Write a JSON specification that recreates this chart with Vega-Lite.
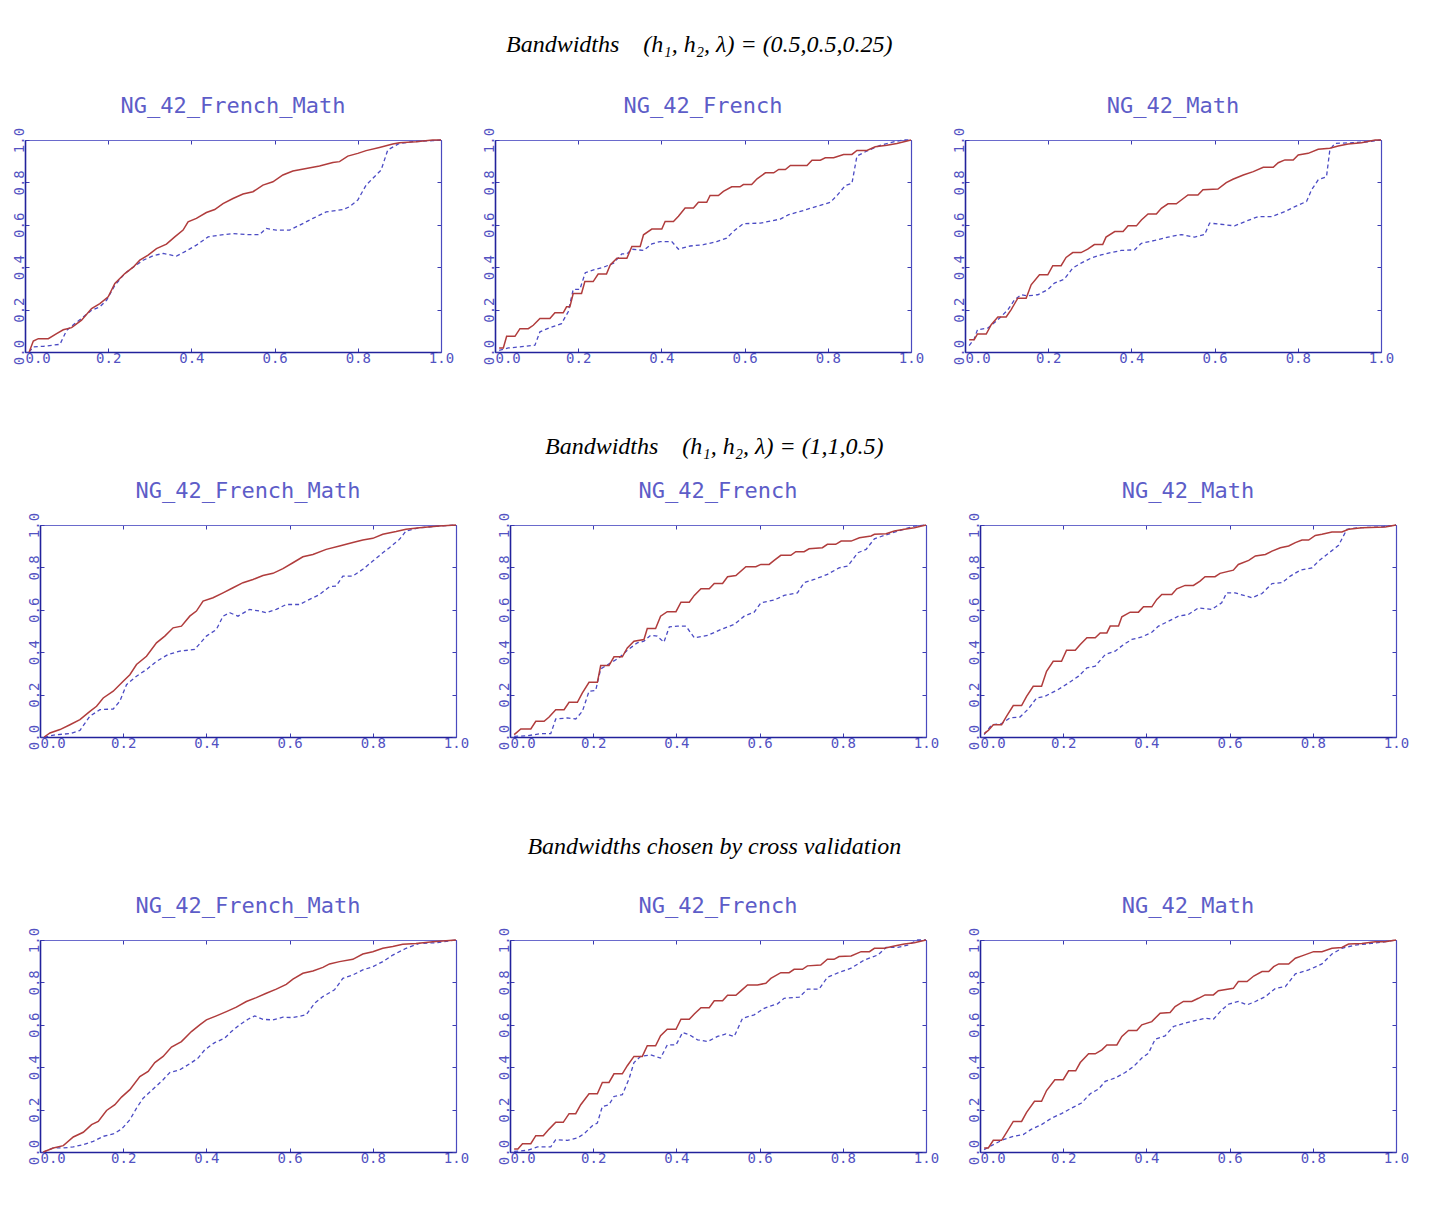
{
"$schema":"https://vega.github.io/schema/vega-lite/v6.json",
"background":"white",
"padding":{"left":5,"right":5,"top":33,"bottom":5},
"spacing":63,
"config":{
 "view":{"stroke":null},
 "title":{"font":"DejaVu Sans Mono","fontSize":22,"fontWeight":"normal","color":"#5d5dc8","offset":9},
 "axis":{"labelFont":"DejaVu Sans Mono","labelFontSize":14,"labelColor":"#5252c2","tickColor":"#3b3bb0","tickSize":-4,"tickWidth":1,"domainColor":"#22229c","domainWidth":1.6,"grid":false,"labelFlush":false,"labelOverlap":false,"labelPadding":3,"tickCount":5},
 "axisLeft":{"labelAngle":-90,"minExtent":20,"maxExtent":20},
 "axisBottom":{"minExtent":20,"maxExtent":20},
 "axisTop":{"labels":false,"minExtent":0,"maxExtent":0,"domainColor":"#6a6acc","domainWidth":1.2},
 "axisRight":{"labels":false,"minExtent":0,"maxExtent":0,"domainColor":"#4a4abf","domainWidth":1.2}
},
"datasets":{
"r1p1":[
{"s":"a","x":0.01,"y":0},{"s":"a","x":0.02,"y":0.052},{"s":"a","x":0.032,"y":0.063},{"s":"a","x":0.056,"y":0.063},{"s":"a","x":0.076,"y":0.087},{"s":"a","x":0.092,"y":0.105},{"s":"a","x":0.112,"y":0.115},{"s":"a","x":0.136,"y":0.15},{"s":"a","x":0.16,"y":0.205},{"s":"a","x":0.18,"y":0.228},{"s":"a","x":0.2,"y":0.26},{"s":"a","x":0.216,"y":0.323},{"s":"a","x":0.24,"y":0.37},{"s":"a","x":0.26,"y":0.4},{"s":"a","x":0.276,"y":0.433},{"s":"a","x":0.296,"y":0.457},{"s":"a","x":0.316,"y":0.488},{"s":"a","x":0.34,"y":0.509},{"s":"a","x":0.36,"y":0.543},{"s":"a","x":0.38,"y":0.575},{"s":"a","x":0.392,"y":0.614},{"s":"a","x":0.412,"y":0.63},{"s":"a","x":0.436,"y":0.658},{"s":"a","x":0.456,"y":0.672},{"s":"a","x":0.476,"y":0.7},{"s":"a","x":0.5,"y":0.724},{"s":"a","x":0.524,"y":0.745},{"s":"a","x":0.548,"y":0.756},{"s":"a","x":0.572,"y":0.787},{"s":"a","x":0.596,"y":0.803},{"s":"a","x":0.62,"y":0.835},{"s":"a","x":0.644,"y":0.854},{"s":"a","x":0.676,"y":0.866},{"s":"a","x":0.708,"y":0.877},{"s":"a","x":0.74,"y":0.894},{"s":"a","x":0.756,"y":0.898},{"s":"a","x":0.776,"y":0.924},{"s":"a","x":0.8,"y":0.937},{"s":"a","x":0.82,"y":0.95},{"s":"a","x":0.852,"y":0.965},{"s":"a","x":0.884,"y":0.981},{"s":"a","x":0.9,"y":0.987},{"s":"a","x":0.94,"y":0.992},{"s":"a","x":0.98,"y":1.0},{"s":"a","x":1.0,"y":1.0},
{"s":"b","x":0.01,"y":0},{"s":"b","x":0.02,"y":0.024},{"s":"b","x":0.044,"y":0.027},{"s":"b","x":0.084,"y":0.036},{"s":"b","x":0.1,"y":0.102},{"s":"b","x":0.12,"y":0.134},{"s":"b","x":0.14,"y":0.165},{"s":"b","x":0.16,"y":0.197},{"s":"b","x":0.18,"y":0.213},{"s":"b","x":0.196,"y":0.244},{"s":"b","x":0.216,"y":0.315},{"s":"b","x":0.24,"y":0.37},{"s":"b","x":0.26,"y":0.4},{"s":"b","x":0.284,"y":0.433},{"s":"b","x":0.308,"y":0.454},{"s":"b","x":0.332,"y":0.465},{"s":"b","x":0.364,"y":0.452},{"s":"b","x":0.388,"y":0.477},{"s":"b","x":0.412,"y":0.504},{"s":"b","x":0.44,"y":0.543},{"s":"b","x":0.468,"y":0.551},{"s":"b","x":0.5,"y":0.559},{"s":"b","x":0.532,"y":0.554},{"s":"b","x":0.564,"y":0.554},{"s":"b","x":0.58,"y":0.583},{"s":"b","x":0.604,"y":0.575},{"s":"b","x":0.636,"y":0.575},{"s":"b","x":0.66,"y":0.598},{"s":"b","x":0.692,"y":0.63},{"s":"b","x":0.724,"y":0.661},{"s":"b","x":0.764,"y":0.672},{"s":"b","x":0.78,"y":0.685},{"s":"b","x":0.8,"y":0.717},{"s":"b","x":0.82,"y":0.787},{"s":"b","x":0.84,"y":0.827},{"s":"b","x":0.856,"y":0.858},{"s":"b","x":0.872,"y":0.953},{"s":"b","x":0.9,"y":0.984},{"s":"b","x":0.932,"y":0.992},{"s":"b","x":0.98,"y":0.997},{"s":"b","x":1.0,"y":1.0}
],
"r1p2":[
{"s":"a","x":0.01,"y":0.019},{"s":"a","x":0.02,"y":0.019},{"s":"a","x":0.028,"y":0.074},{"s":"a","x":0.048,"y":0.074},{"s":"a","x":0.06,"y":0.11},{"s":"a","x":0.08,"y":0.11},{"s":"a","x":0.092,"y":0.126},{"s":"a","x":0.108,"y":0.158},{"s":"a","x":0.132,"y":0.158},{"s":"a","x":0.144,"y":0.185},{"s":"a","x":0.164,"y":0.185},{"s":"a","x":0.172,"y":0.213},{"s":"a","x":0.18,"y":0.213},{"s":"a","x":0.188,"y":0.276},{"s":"a","x":0.208,"y":0.276},{"s":"a","x":0.216,"y":0.332},{"s":"a","x":0.236,"y":0.332},{"s":"a","x":0.248,"y":0.368},{"s":"a","x":0.268,"y":0.368},{"s":"a","x":0.277,"y":0.411},{"s":"a","x":0.293,"y":0.442},{"s":"a","x":0.317,"y":0.442},{"s":"a","x":0.329,"y":0.498},{"s":"a","x":0.349,"y":0.498},{"s":"a","x":0.357,"y":0.553},{"s":"a","x":0.377,"y":0.58},{"s":"a","x":0.401,"y":0.58},{"s":"a","x":0.409,"y":0.616},{"s":"a","x":0.429,"y":0.616},{"s":"a","x":0.441,"y":0.64},{"s":"a","x":0.457,"y":0.679},{"s":"a","x":0.477,"y":0.679},{"s":"a","x":0.489,"y":0.706},{"s":"a","x":0.509,"y":0.706},{"s":"a","x":0.517,"y":0.738},{"s":"a","x":0.537,"y":0.738},{"s":"a","x":0.549,"y":0.758},{"s":"a","x":0.569,"y":0.779},{"s":"a","x":0.589,"y":0.779},{"s":"a","x":0.597,"y":0.79},{"s":"a","x":0.617,"y":0.79},{"s":"a","x":0.63,"y":0.817},{"s":"a","x":0.65,"y":0.845},{"s":"a","x":0.67,"y":0.845},{"s":"a","x":0.682,"y":0.861},{"s":"a","x":0.698,"y":0.861},{"s":"a","x":0.71,"y":0.88},{"s":"a","x":0.75,"y":0.88},{"s":"a","x":0.762,"y":0.905},{"s":"a","x":0.782,"y":0.905},{"s":"a","x":0.794,"y":0.916},{"s":"a","x":0.814,"y":0.916},{"s":"a","x":0.838,"y":0.932},{"s":"a","x":0.858,"y":0.932},{"s":"a","x":0.87,"y":0.951},{"s":"a","x":0.894,"y":0.951},{"s":"a","x":0.914,"y":0.968},{"s":"a","x":0.942,"y":0.975},{"s":"a","x":0.966,"y":0.984},{"s":"a","x":1.0,"y":1.0},
{"s":"b","x":0.01,"y":0.008},{"s":"b","x":0.032,"y":0.019},{"s":"b","x":0.06,"y":0.024},{"s":"b","x":0.096,"y":0.032},{"s":"b","x":0.108,"y":0.095},{"s":"b","x":0.132,"y":0.115},{"s":"b","x":0.16,"y":0.134},{"s":"b","x":0.176,"y":0.19},{"s":"b","x":0.188,"y":0.295},{"s":"b","x":0.204,"y":0.295},{"s":"b","x":0.217,"y":0.374},{"s":"b","x":0.237,"y":0.387},{"s":"b","x":0.261,"y":0.4},{"s":"b","x":0.285,"y":0.419},{"s":"b","x":0.305,"y":0.463},{"s":"b","x":0.317,"y":0.463},{"s":"b","x":0.329,"y":0.485},{"s":"b","x":0.357,"y":0.479},{"s":"b","x":0.377,"y":0.51},{"s":"b","x":0.397,"y":0.521},{"s":"b","x":0.425,"y":0.521},{"s":"b","x":0.441,"y":0.485},{"s":"b","x":0.469,"y":0.5},{"s":"b","x":0.501,"y":0.506},{"s":"b","x":0.533,"y":0.521},{"s":"b","x":0.557,"y":0.537},{"s":"b","x":0.573,"y":0.569},{"s":"b","x":0.597,"y":0.605},{"s":"b","x":0.638,"y":0.608},{"s":"b","x":0.686,"y":0.627},{"s":"b","x":0.706,"y":0.648},{"s":"b","x":0.742,"y":0.668},{"s":"b","x":0.774,"y":0.687},{"s":"b","x":0.806,"y":0.706},{"s":"b","x":0.822,"y":0.738},{"s":"b","x":0.842,"y":0.785},{"s":"b","x":0.858,"y":0.795},{"s":"b","x":0.87,"y":0.924},{"s":"b","x":0.894,"y":0.948},{"s":"b","x":0.926,"y":0.975},{"s":"b","x":0.958,"y":0.991},{"s":"b","x":0.982,"y":1.0},{"s":"b","x":1.0,"y":1.0}
],
"r1p3":[
{"s":"a","x":0.01,"y":0.058},{"s":"a","x":0.022,"y":0.058},{"s":"a","x":0.03,"y":0.085},{"s":"a","x":0.051,"y":0.085},{"s":"a","x":0.063,"y":0.129},{"s":"a","x":0.079,"y":0.165},{"s":"a","x":0.099,"y":0.165},{"s":"a","x":0.111,"y":0.2},{"s":"a","x":0.127,"y":0.254},{"s":"a","x":0.147,"y":0.254},{"s":"a","x":0.159,"y":0.317},{"s":"a","x":0.179,"y":0.364},{"s":"a","x":0.199,"y":0.364},{"s":"a","x":0.211,"y":0.407},{"s":"a","x":0.231,"y":0.407},{"s":"a","x":0.243,"y":0.446},{"s":"a","x":0.259,"y":0.469},{"s":"a","x":0.279,"y":0.469},{"s":"a","x":0.295,"y":0.485},{"s":"a","x":0.311,"y":0.507},{"s":"a","x":0.331,"y":0.507},{"s":"a","x":0.339,"y":0.542},{"s":"a","x":0.36,"y":0.568},{"s":"a","x":0.38,"y":0.568},{"s":"a","x":0.392,"y":0.595},{"s":"a","x":0.412,"y":0.595},{"s":"a","x":0.424,"y":0.623},{"s":"a","x":0.44,"y":0.651},{"s":"a","x":0.46,"y":0.651},{"s":"a","x":0.472,"y":0.678},{"s":"a","x":0.488,"y":0.699},{"s":"a","x":0.508,"y":0.699},{"s":"a","x":0.52,"y":0.717},{"s":"a","x":0.536,"y":0.741},{"s":"a","x":0.56,"y":0.741},{"s":"a","x":0.572,"y":0.765},{"s":"a","x":0.608,"y":0.769},{"s":"a","x":0.628,"y":0.799},{"s":"a","x":0.644,"y":0.815},{"s":"a","x":0.669,"y":0.835},{"s":"a","x":0.693,"y":0.851},{"s":"a","x":0.717,"y":0.871},{"s":"a","x":0.741,"y":0.871},{"s":"a","x":0.753,"y":0.893},{"s":"a","x":0.769,"y":0.906},{"s":"a","x":0.789,"y":0.906},{"s":"a","x":0.801,"y":0.929},{"s":"a","x":0.825,"y":0.937},{"s":"a","x":0.849,"y":0.956},{"s":"a","x":0.877,"y":0.961},{"s":"a","x":0.897,"y":0.972},{"s":"a","x":0.921,"y":0.981},{"s":"a","x":0.953,"y":0.987},{"s":"a","x":0.986,"y":1.0},{"s":"a","x":1.0,"y":1.0},
{"s":"b","x":0.01,"y":0.03},{"s":"b","x":0.022,"y":0.061},{"s":"b","x":0.03,"y":0.105},{"s":"b","x":0.055,"y":0.113},{"s":"b","x":0.079,"y":0.152},{"s":"b","x":0.103,"y":0.199},{"s":"b","x":0.119,"y":0.246},{"s":"b","x":0.135,"y":0.27},{"s":"b","x":0.151,"y":0.265},{"s":"b","x":0.175,"y":0.27},{"s":"b","x":0.199,"y":0.294},{"s":"b","x":0.215,"y":0.325},{"s":"b","x":0.239,"y":0.344},{"s":"b","x":0.259,"y":0.396},{"s":"b","x":0.279,"y":0.419},{"s":"b","x":0.303,"y":0.443},{"s":"b","x":0.327,"y":0.458},{"s":"b","x":0.351,"y":0.469},{"s":"b","x":0.376,"y":0.479},{"s":"b","x":0.408,"y":0.482},{"s":"b","x":0.424,"y":0.513},{"s":"b","x":0.456,"y":0.526},{"s":"b","x":0.488,"y":0.542},{"s":"b","x":0.52,"y":0.554},{"s":"b","x":0.552,"y":0.542},{"s":"b","x":0.576,"y":0.554},{"s":"b","x":0.588,"y":0.608},{"s":"b","x":0.608,"y":0.604},{"s":"b","x":0.648,"y":0.595},{"s":"b","x":0.673,"y":0.615},{"s":"b","x":0.705,"y":0.639},{"s":"b","x":0.737,"y":0.639},{"s":"b","x":0.769,"y":0.662},{"s":"b","x":0.793,"y":0.686},{"s":"b","x":0.821,"y":0.71},{"s":"b","x":0.833,"y":0.765},{"s":"b","x":0.849,"y":0.812},{"s":"b","x":0.869,"y":0.827},{"s":"b","x":0.877,"y":0.953},{"s":"b","x":0.889,"y":0.984},{"s":"b","x":0.929,"y":0.987},{"s":"b","x":0.97,"y":0.992},{"s":"b","x":1.0,"y":1.0}
],
"r2p1":[
{"s":"a","x":0.01,"y":0},{"s":"a","x":0.024,"y":0.019},{"s":"a","x":0.048,"y":0.035},{"s":"a","x":0.072,"y":0.058},{"s":"a","x":0.096,"y":0.082},{"s":"a","x":0.12,"y":0.121},{"s":"a","x":0.136,"y":0.145},{"s":"a","x":0.152,"y":0.184},{"s":"a","x":0.176,"y":0.216},{"s":"a","x":0.2,"y":0.263},{"s":"a","x":0.216,"y":0.294},{"s":"a","x":0.232,"y":0.342},{"s":"a","x":0.256,"y":0.381},{"s":"a","x":0.28,"y":0.444},{"s":"a","x":0.3,"y":0.476},{"s":"a","x":0.32,"y":0.515},{"s":"a","x":0.34,"y":0.523},{"s":"a","x":0.36,"y":0.57},{"s":"a","x":0.376,"y":0.594},{"s":"a","x":0.392,"y":0.641},{"s":"a","x":0.416,"y":0.657},{"s":"a","x":0.44,"y":0.68},{"s":"a","x":0.464,"y":0.704},{"s":"a","x":0.488,"y":0.728},{"s":"a","x":0.512,"y":0.743},{"s":"a","x":0.536,"y":0.762},{"s":"a","x":0.56,"y":0.772},{"s":"a","x":0.584,"y":0.794},{"s":"a","x":0.608,"y":0.822},{"s":"a","x":0.632,"y":0.85},{"s":"a","x":0.656,"y":0.861},{"s":"a","x":0.688,"y":0.885},{"s":"a","x":0.72,"y":0.901},{"s":"a","x":0.752,"y":0.917},{"s":"a","x":0.776,"y":0.929},{"s":"a","x":0.8,"y":0.937},{"s":"a","x":0.824,"y":0.956},{"s":"a","x":0.856,"y":0.969},{"s":"a","x":0.88,"y":0.98},{"s":"a","x":0.912,"y":0.987},{"s":"a","x":0.96,"y":0.995},{"s":"a","x":1.0,"y":1.0},
{"s":"b","x":0.01,"y":0},{"s":"b","x":0.04,"y":0.011},{"s":"b","x":0.072,"y":0.016},{"s":"b","x":0.096,"y":0.031},{"s":"b","x":0.12,"y":0.098},{"s":"b","x":0.144,"y":0.129},{"s":"b","x":0.176,"y":0.132},{"s":"b","x":0.192,"y":0.169},{"s":"b","x":0.208,"y":0.247},{"s":"b","x":0.232,"y":0.287},{"s":"b","x":0.256,"y":0.318},{"s":"b","x":0.28,"y":0.357},{"s":"b","x":0.308,"y":0.389},{"s":"b","x":0.336,"y":0.405},{"s":"b","x":0.372,"y":0.413},{"s":"b","x":0.4,"y":0.476},{"s":"b","x":0.424,"y":0.507},{"s":"b","x":0.44,"y":0.57},{"s":"b","x":0.456,"y":0.586},{"s":"b","x":0.476,"y":0.57},{"s":"b","x":0.504,"y":0.602},{"s":"b","x":0.528,"y":0.594},{"s":"b","x":0.544,"y":0.586},{"s":"b","x":0.568,"y":0.602},{"s":"b","x":0.592,"y":0.625},{"s":"b","x":0.624,"y":0.625},{"s":"b","x":0.648,"y":0.649},{"s":"b","x":0.672,"y":0.672},{"s":"b","x":0.696,"y":0.709},{"s":"b","x":0.712,"y":0.712},{"s":"b","x":0.728,"y":0.759},{"s":"b","x":0.752,"y":0.759},{"s":"b","x":0.776,"y":0.791},{"s":"b","x":0.8,"y":0.83},{"s":"b","x":0.824,"y":0.869},{"s":"b","x":0.84,"y":0.893},{"s":"b","x":0.864,"y":0.932},{"s":"b","x":0.88,"y":0.972},{"s":"b","x":0.912,"y":0.987},{"s":"b","x":0.96,"y":0.995},{"s":"b","x":1.0,"y":1.0}
],
"r2p2":[
{"s":"a","x":0.01,"y":0.011},{"s":"a","x":0.026,"y":0.038},{"s":"a","x":0.05,"y":0.038},{"s":"a","x":0.062,"y":0.074},{"s":"a","x":0.082,"y":0.074},{"s":"a","x":0.094,"y":0.094},{"s":"a","x":0.11,"y":0.129},{"s":"a","x":0.13,"y":0.129},{"s":"a","x":0.142,"y":0.164},{"s":"a","x":0.162,"y":0.164},{"s":"a","x":0.174,"y":0.208},{"s":"a","x":0.19,"y":0.258},{"s":"a","x":0.21,"y":0.258},{"s":"a","x":0.218,"y":0.337},{"s":"a","x":0.238,"y":0.337},{"s":"a","x":0.25,"y":0.378},{"s":"a","x":0.27,"y":0.378},{"s":"a","x":0.282,"y":0.42},{"s":"a","x":0.298,"y":0.452},{"s":"a","x":0.322,"y":0.46},{"s":"a","x":0.33,"y":0.512},{"s":"a","x":0.35,"y":0.512},{"s":"a","x":0.362,"y":0.57},{"s":"a","x":0.378,"y":0.591},{"s":"a","x":0.399,"y":0.591},{"s":"a","x":0.411,"y":0.636},{"s":"a","x":0.431,"y":0.636},{"s":"a","x":0.443,"y":0.668},{"s":"a","x":0.459,"y":0.699},{"s":"a","x":0.479,"y":0.699},{"s":"a","x":0.491,"y":0.724},{"s":"a","x":0.511,"y":0.724},{"s":"a","x":0.523,"y":0.756},{"s":"a","x":0.543,"y":0.762},{"s":"a","x":0.567,"y":0.803},{"s":"a","x":0.591,"y":0.803},{"s":"a","x":0.603,"y":0.814},{"s":"a","x":0.623,"y":0.814},{"s":"a","x":0.635,"y":0.833},{"s":"a","x":0.651,"y":0.857},{"s":"a","x":0.675,"y":0.857},{"s":"a","x":0.687,"y":0.874},{"s":"a","x":0.707,"y":0.874},{"s":"a","x":0.719,"y":0.888},{"s":"a","x":0.751,"y":0.893},{"s":"a","x":0.763,"y":0.909},{"s":"a","x":0.783,"y":0.909},{"s":"a","x":0.796,"y":0.924},{"s":"a","x":0.82,"y":0.924},{"s":"a","x":0.84,"y":0.94},{"s":"a","x":0.868,"y":0.948},{"s":"a","x":0.876,"y":0.956},{"s":"a","x":0.904,"y":0.959},{"s":"a","x":0.924,"y":0.972},{"s":"a","x":0.948,"y":0.98},{"s":"a","x":0.972,"y":0.987},{"s":"a","x":1.0,"y":1.0},
{"s":"b","x":0.01,"y":0.003},{"s":"b","x":0.042,"y":0.006},{"s":"b","x":0.074,"y":0.016},{"s":"b","x":0.098,"y":0.016},{"s":"b","x":0.11,"y":0.085},{"s":"b","x":0.138,"y":0.09},{"s":"b","x":0.158,"y":0.085},{"s":"b","x":0.174,"y":0.121},{"s":"b","x":0.19,"y":0.216},{"s":"b","x":0.206,"y":0.22},{"s":"b","x":0.218,"y":0.321},{"s":"b","x":0.242,"y":0.35},{"s":"b","x":0.262,"y":0.373},{"s":"b","x":0.282,"y":0.409},{"s":"b","x":0.306,"y":0.444},{"s":"b","x":0.322,"y":0.452},{"s":"b","x":0.338,"y":0.48},{"s":"b","x":0.354,"y":0.476},{"s":"b","x":0.37,"y":0.447},{"s":"b","x":0.383,"y":0.52},{"s":"b","x":0.403,"y":0.523},{"s":"b","x":0.423,"y":0.523},{"s":"b","x":0.443,"y":0.468},{"s":"b","x":0.475,"y":0.479},{"s":"b","x":0.507,"y":0.507},{"s":"b","x":0.539,"y":0.531},{"s":"b","x":0.563,"y":0.57},{"s":"b","x":0.587,"y":0.589},{"s":"b","x":0.603,"y":0.633},{"s":"b","x":0.635,"y":0.646},{"s":"b","x":0.659,"y":0.668},{"s":"b","x":0.691,"y":0.68},{"s":"b","x":0.707,"y":0.728},{"s":"b","x":0.731,"y":0.743},{"s":"b","x":0.763,"y":0.767},{"s":"b","x":0.791,"y":0.798},{"s":"b","x":0.812,"y":0.806},{"s":"b","x":0.836,"y":0.869},{"s":"b","x":0.856,"y":0.885},{"s":"b","x":0.876,"y":0.935},{"s":"b","x":0.908,"y":0.956},{"s":"b","x":0.94,"y":0.976},{"s":"b","x":0.972,"y":0.995},{"s":"b","x":1.0,"y":1.0}
],
"r2p3":[
{"s":"a","x":0.01,"y":0.016},{"s":"a","x":0.02,"y":0.031},{"s":"a","x":0.032,"y":0.058},{"s":"a","x":0.052,"y":0.058},{"s":"a","x":0.064,"y":0.098},{"s":"a","x":0.08,"y":0.148},{"s":"a","x":0.1,"y":0.148},{"s":"a","x":0.112,"y":0.192},{"s":"a","x":0.128,"y":0.239},{"s":"a","x":0.148,"y":0.239},{"s":"a","x":0.16,"y":0.31},{"s":"a","x":0.176,"y":0.357},{"s":"a","x":0.196,"y":0.357},{"s":"a","x":0.208,"y":0.409},{"s":"a","x":0.229,"y":0.409},{"s":"a","x":0.241,"y":0.436},{"s":"a","x":0.257,"y":0.468},{"s":"a","x":0.277,"y":0.468},{"s":"a","x":0.289,"y":0.491},{"s":"a","x":0.305,"y":0.491},{"s":"a","x":0.313,"y":0.523},{"s":"a","x":0.333,"y":0.523},{"s":"a","x":0.341,"y":0.567},{"s":"a","x":0.361,"y":0.589},{"s":"a","x":0.381,"y":0.589},{"s":"a","x":0.393,"y":0.614},{"s":"a","x":0.413,"y":0.614},{"s":"a","x":0.425,"y":0.649},{"s":"a","x":0.437,"y":0.672},{"s":"a","x":0.461,"y":0.672},{"s":"a","x":0.473,"y":0.699},{"s":"a","x":0.493,"y":0.715},{"s":"a","x":0.513,"y":0.715},{"s":"a","x":0.529,"y":0.735},{"s":"a","x":0.541,"y":0.756},{"s":"a","x":0.565,"y":0.756},{"s":"a","x":0.577,"y":0.772},{"s":"a","x":0.609,"y":0.787},{"s":"a","x":0.621,"y":0.814},{"s":"a","x":0.646,"y":0.833},{"s":"a","x":0.662,"y":0.854},{"s":"a","x":0.686,"y":0.861},{"s":"a","x":0.702,"y":0.877},{"s":"a","x":0.722,"y":0.893},{"s":"a","x":0.742,"y":0.901},{"s":"a","x":0.758,"y":0.917},{"s":"a","x":0.774,"y":0.929},{"s":"a","x":0.79,"y":0.929},{"s":"a","x":0.806,"y":0.951},{"s":"a","x":0.822,"y":0.956},{"s":"a","x":0.846,"y":0.967},{"s":"a","x":0.87,"y":0.967},{"s":"a","x":0.886,"y":0.98},{"s":"a","x":0.918,"y":0.987},{"s":"a","x":0.974,"y":0.991},{"s":"a","x":1.0,"y":1.0},
{"s":"b","x":0.01,"y":0.011},{"s":"b","x":0.028,"y":0.058},{"s":"b","x":0.052,"y":0.063},{"s":"b","x":0.072,"y":0.09},{"s":"b","x":0.096,"y":0.094},{"s":"b","x":0.116,"y":0.132},{"s":"b","x":0.136,"y":0.184},{"s":"b","x":0.156,"y":0.192},{"s":"b","x":0.188,"y":0.224},{"s":"b","x":0.213,"y":0.255},{"s":"b","x":0.237,"y":0.287},{"s":"b","x":0.257,"y":0.326},{"s":"b","x":0.277,"y":0.334},{"s":"b","x":0.301,"y":0.389},{"s":"b","x":0.325,"y":0.405},{"s":"b","x":0.345,"y":0.436},{"s":"b","x":0.365,"y":0.46},{"s":"b","x":0.389,"y":0.472},{"s":"b","x":0.413,"y":0.494},{"s":"b","x":0.429,"y":0.523},{"s":"b","x":0.453,"y":0.546},{"s":"b","x":0.477,"y":0.57},{"s":"b","x":0.501,"y":0.578},{"s":"b","x":0.525,"y":0.609},{"s":"b","x":0.557,"y":0.602},{"s":"b","x":0.581,"y":0.633},{"s":"b","x":0.593,"y":0.68},{"s":"b","x":0.613,"y":0.68},{"s":"b","x":0.654,"y":0.657},{"s":"b","x":0.678,"y":0.677},{"s":"b","x":0.702,"y":0.724},{"s":"b","x":0.726,"y":0.728},{"s":"b","x":0.746,"y":0.759},{"s":"b","x":0.77,"y":0.787},{"s":"b","x":0.798,"y":0.798},{"s":"b","x":0.814,"y":0.83},{"s":"b","x":0.834,"y":0.861},{"s":"b","x":0.862,"y":0.904},{"s":"b","x":0.882,"y":0.98},{"s":"b","x":0.91,"y":0.987},{"s":"b","x":0.966,"y":0.991},{"s":"b","x":1.0,"y":1.0}
],
"r3p1":[
{"s":"a","x":0.008,"y":0},{"s":"a","x":0.032,"y":0.019},{"s":"a","x":0.056,"y":0.03},{"s":"a","x":0.08,"y":0.071},{"s":"a","x":0.104,"y":0.093},{"s":"a","x":0.124,"y":0.129},{"s":"a","x":0.14,"y":0.144},{"s":"a","x":0.16,"y":0.196},{"s":"a","x":0.18,"y":0.223},{"s":"a","x":0.196,"y":0.259},{"s":"a","x":0.216,"y":0.294},{"s":"a","x":0.24,"y":0.356},{"s":"a","x":0.26,"y":0.38},{"s":"a","x":0.276,"y":0.422},{"s":"a","x":0.296,"y":0.451},{"s":"a","x":0.316,"y":0.495},{"s":"a","x":0.34,"y":0.521},{"s":"a","x":0.364,"y":0.568},{"s":"a","x":0.384,"y":0.6},{"s":"a","x":0.4,"y":0.623},{"s":"a","x":0.424,"y":0.642},{"s":"a","x":0.448,"y":0.662},{"s":"a","x":0.472,"y":0.683},{"s":"a","x":0.496,"y":0.71},{"s":"a","x":0.52,"y":0.728},{"s":"a","x":0.544,"y":0.749},{"s":"a","x":0.568,"y":0.768},{"s":"a","x":0.592,"y":0.791},{"s":"a","x":0.608,"y":0.815},{"s":"a","x":0.632,"y":0.843},{"s":"a","x":0.656,"y":0.854},{"s":"a","x":0.68,"y":0.871},{"s":"a","x":0.696,"y":0.887},{"s":"a","x":0.72,"y":0.898},{"s":"a","x":0.752,"y":0.909},{"s":"a","x":0.776,"y":0.934},{"s":"a","x":0.8,"y":0.945},{"s":"a","x":0.824,"y":0.961},{"s":"a","x":0.848,"y":0.969},{"s":"a","x":0.872,"y":0.98},{"s":"a","x":0.904,"y":0.984},{"s":"a","x":0.944,"y":0.992},{"s":"a","x":1.0,"y":1.0},
{"s":"b","x":0.008,"y":0},{"s":"b","x":0.032,"y":0.019},{"s":"b","x":0.056,"y":0.019},{"s":"b","x":0.08,"y":0.024},{"s":"b","x":0.104,"y":0.035},{"s":"b","x":0.128,"y":0.05},{"s":"b","x":0.152,"y":0.074},{"s":"b","x":0.176,"y":0.085},{"s":"b","x":0.196,"y":0.108},{"s":"b","x":0.216,"y":0.152},{"s":"b","x":0.232,"y":0.207},{"s":"b","x":0.248,"y":0.254},{"s":"b","x":0.272,"y":0.297},{"s":"b","x":0.296,"y":0.341},{"s":"b","x":0.312,"y":0.375},{"s":"b","x":0.336,"y":0.388},{"s":"b","x":0.36,"y":0.416},{"s":"b","x":0.38,"y":0.443},{"s":"b","x":0.396,"y":0.482},{"s":"b","x":0.42,"y":0.516},{"s":"b","x":0.444,"y":0.537},{"s":"b","x":0.46,"y":0.568},{"s":"b","x":0.48,"y":0.6},{"s":"b","x":0.5,"y":0.626},{"s":"b","x":0.516,"y":0.642},{"s":"b","x":0.536,"y":0.626},{"s":"b","x":0.56,"y":0.623},{"s":"b","x":0.584,"y":0.636},{"s":"b","x":0.608,"y":0.634},{"s":"b","x":0.64,"y":0.647},{"s":"b","x":0.66,"y":0.702},{"s":"b","x":0.68,"y":0.733},{"s":"b","x":0.708,"y":0.765},{"s":"b","x":0.728,"y":0.819},{"s":"b","x":0.752,"y":0.835},{"s":"b","x":0.776,"y":0.859},{"s":"b","x":0.8,"y":0.874},{"s":"b","x":0.824,"y":0.898},{"s":"b","x":0.848,"y":0.929},{"s":"b","x":0.88,"y":0.961},{"s":"b","x":0.912,"y":0.984},{"s":"b","x":0.952,"y":0.987},{"s":"b","x":1.0,"y":1.0}
],
"r3p2":[
{"s":"a","x":0.01,"y":0.014},{"s":"a","x":0.019,"y":0.014},{"s":"a","x":0.03,"y":0.039},{"s":"a","x":0.05,"y":0.039},{"s":"a","x":0.062,"y":0.077},{"s":"a","x":0.08,"y":0.077},{"s":"a","x":0.094,"y":0.108},{"s":"a","x":0.11,"y":0.14},{"s":"a","x":0.128,"y":0.14},{"s":"a","x":0.142,"y":0.181},{"s":"a","x":0.158,"y":0.181},{"s":"a","x":0.17,"y":0.223},{"s":"a","x":0.19,"y":0.275},{"s":"a","x":0.21,"y":0.275},{"s":"a","x":0.222,"y":0.328},{"s":"a","x":0.238,"y":0.328},{"s":"a","x":0.25,"y":0.369},{"s":"a","x":0.27,"y":0.369},{"s":"a","x":0.282,"y":0.407},{"s":"a","x":0.298,"y":0.451},{"s":"a","x":0.318,"y":0.451},{"s":"a","x":0.33,"y":0.501},{"s":"a","x":0.35,"y":0.501},{"s":"a","x":0.362,"y":0.549},{"s":"a","x":0.378,"y":0.579},{"s":"a","x":0.399,"y":0.579},{"s":"a","x":0.411,"y":0.626},{"s":"a","x":0.431,"y":0.626},{"s":"a","x":0.443,"y":0.651},{"s":"a","x":0.459,"y":0.681},{"s":"a","x":0.479,"y":0.681},{"s":"a","x":0.491,"y":0.713},{"s":"a","x":0.511,"y":0.713},{"s":"a","x":0.523,"y":0.739},{"s":"a","x":0.543,"y":0.739},{"s":"a","x":0.555,"y":0.76},{"s":"a","x":0.571,"y":0.788},{"s":"a","x":0.595,"y":0.788},{"s":"a","x":0.615,"y":0.796},{"s":"a","x":0.627,"y":0.819},{"s":"a","x":0.651,"y":0.846},{"s":"a","x":0.671,"y":0.846},{"s":"a","x":0.683,"y":0.862},{"s":"a","x":0.703,"y":0.862},{"s":"a","x":0.715,"y":0.878},{"s":"a","x":0.747,"y":0.882},{"s":"a","x":0.763,"y":0.909},{"s":"a","x":0.779,"y":0.909},{"s":"a","x":0.791,"y":0.922},{"s":"a","x":0.82,"y":0.925},{"s":"a","x":0.844,"y":0.945},{"s":"a","x":0.864,"y":0.945},{"s":"a","x":0.876,"y":0.961},{"s":"a","x":0.9,"y":0.961},{"s":"a","x":0.924,"y":0.972},{"s":"a","x":0.948,"y":0.981},{"s":"a","x":0.972,"y":0.987},{"s":"a","x":1.0,"y":1.0},
{"s":"b","x":0.01,"y":0.003},{"s":"b","x":0.042,"y":0.008},{"s":"b","x":0.066,"y":0.024},{"s":"b","x":0.098,"y":0.024},{"s":"b","x":0.11,"y":0.058},{"s":"b","x":0.138,"y":0.055},{"s":"b","x":0.162,"y":0.066},{"s":"b","x":0.178,"y":0.086},{"s":"b","x":0.198,"y":0.124},{"s":"b","x":0.21,"y":0.137},{"s":"b","x":0.222,"y":0.215},{"s":"b","x":0.238,"y":0.223},{"s":"b","x":0.25,"y":0.262},{"s":"b","x":0.27,"y":0.27},{"s":"b","x":0.286,"y":0.344},{"s":"b","x":0.298,"y":0.422},{"s":"b","x":0.314,"y":0.451},{"s":"b","x":0.338,"y":0.458},{"s":"b","x":0.362,"y":0.443},{"s":"b","x":0.378,"y":0.505},{"s":"b","x":0.399,"y":0.505},{"s":"b","x":0.415,"y":0.564},{"s":"b","x":0.431,"y":0.553},{"s":"b","x":0.451,"y":0.529},{"s":"b","x":0.475,"y":0.521},{"s":"b","x":0.499,"y":0.545},{"s":"b","x":0.519,"y":0.557},{"s":"b","x":0.539,"y":0.545},{"s":"b","x":0.559,"y":0.631},{"s":"b","x":0.587,"y":0.647},{"s":"b","x":0.611,"y":0.678},{"s":"b","x":0.643,"y":0.699},{"s":"b","x":0.659,"y":0.725},{"s":"b","x":0.695,"y":0.73},{"s":"b","x":0.715,"y":0.768},{"s":"b","x":0.743,"y":0.768},{"s":"b","x":0.763,"y":0.824},{"s":"b","x":0.796,"y":0.851},{"s":"b","x":0.82,"y":0.867},{"s":"b","x":0.852,"y":0.906},{"s":"b","x":0.884,"y":0.929},{"s":"b","x":0.904,"y":0.965},{"s":"b","x":0.932,"y":0.965},{"s":"b","x":0.956,"y":0.976},{"s":"b","x":0.98,"y":1.0},{"s":"b","x":1.0,"y":1.0}
],
"r3p3":[
{"s":"a","x":0.01,"y":0.019},{"s":"a","x":0.02,"y":0.019},{"s":"a","x":0.032,"y":0.055},{"s":"a","x":0.052,"y":0.055},{"s":"a","x":0.064,"y":0.093},{"s":"a","x":0.08,"y":0.144},{"s":"a","x":0.1,"y":0.144},{"s":"a","x":0.112,"y":0.187},{"s":"a","x":0.131,"y":0.239},{"s":"a","x":0.148,"y":0.239},{"s":"a","x":0.16,"y":0.29},{"s":"a","x":0.18,"y":0.341},{"s":"a","x":0.2,"y":0.341},{"s":"a","x":0.213,"y":0.383},{"s":"a","x":0.23,"y":0.383},{"s":"a","x":0.241,"y":0.422},{"s":"a","x":0.261,"y":0.463},{"s":"a","x":0.277,"y":0.463},{"s":"a","x":0.293,"y":0.482},{"s":"a","x":0.305,"y":0.505},{"s":"a","x":0.329,"y":0.505},{"s":"a","x":0.341,"y":0.545},{"s":"a","x":0.357,"y":0.573},{"s":"a","x":0.377,"y":0.573},{"s":"a","x":0.389,"y":0.6},{"s":"a","x":0.413,"y":0.615},{"s":"a","x":0.433,"y":0.655},{"s":"a","x":0.457,"y":0.658},{"s":"a","x":0.469,"y":0.686},{"s":"a","x":0.489,"y":0.71},{"s":"a","x":0.509,"y":0.71},{"s":"a","x":0.525,"y":0.725},{"s":"a","x":0.541,"y":0.741},{"s":"a","x":0.561,"y":0.741},{"s":"a","x":0.573,"y":0.761},{"s":"a","x":0.609,"y":0.772},{"s":"a","x":0.621,"y":0.804},{"s":"a","x":0.642,"y":0.804},{"s":"a","x":0.658,"y":0.83},{"s":"a","x":0.678,"y":0.851},{"s":"a","x":0.694,"y":0.851},{"s":"a","x":0.706,"y":0.874},{"s":"a","x":0.718,"y":0.887},{"s":"a","x":0.742,"y":0.887},{"s":"a","x":0.758,"y":0.914},{"s":"a","x":0.774,"y":0.925},{"s":"a","x":0.802,"y":0.945},{"s":"a","x":0.822,"y":0.945},{"s":"a","x":0.846,"y":0.961},{"s":"a","x":0.87,"y":0.965},{"s":"a","x":0.886,"y":0.981},{"s":"a","x":0.918,"y":0.984},{"s":"a","x":0.95,"y":0.992},{"s":"a","x":0.974,"y":0.992},{"s":"a","x":1.0,"y":1.0},
{"s":"b","x":0.01,"y":0.011},{"s":"b","x":0.032,"y":0.035},{"s":"b","x":0.056,"y":0.058},{"s":"b","x":0.08,"y":0.074},{"s":"b","x":0.104,"y":0.082},{"s":"b","x":0.124,"y":0.108},{"s":"b","x":0.148,"y":0.129},{"s":"b","x":0.172,"y":0.16},{"s":"b","x":0.196,"y":0.181},{"s":"b","x":0.22,"y":0.207},{"s":"b","x":0.244,"y":0.231},{"s":"b","x":0.265,"y":0.275},{"s":"b","x":0.285,"y":0.297},{"s":"b","x":0.301,"y":0.333},{"s":"b","x":0.325,"y":0.349},{"s":"b","x":0.349,"y":0.375},{"s":"b","x":0.369,"y":0.403},{"s":"b","x":0.389,"y":0.443},{"s":"b","x":0.405,"y":0.466},{"s":"b","x":0.421,"y":0.532},{"s":"b","x":0.445,"y":0.548},{"s":"b","x":0.465,"y":0.592},{"s":"b","x":0.493,"y":0.608},{"s":"b","x":0.517,"y":0.62},{"s":"b","x":0.541,"y":0.631},{"s":"b","x":0.561,"y":0.626},{"s":"b","x":0.581,"y":0.67},{"s":"b","x":0.597,"y":0.697},{"s":"b","x":0.621,"y":0.71},{"s":"b","x":0.642,"y":0.694},{"s":"b","x":0.662,"y":0.71},{"s":"b","x":0.686,"y":0.733},{"s":"b","x":0.71,"y":0.772},{"s":"b","x":0.734,"y":0.78},{"s":"b","x":0.758,"y":0.84},{"s":"b","x":0.79,"y":0.859},{"s":"b","x":0.822,"y":0.887},{"s":"b","x":0.846,"y":0.934},{"s":"b","x":0.87,"y":0.961},{"s":"b","x":0.902,"y":0.976},{"s":"b","x":0.942,"y":0.984},{"s":"b","x":0.974,"y":0.992},{"s":"b","x":1.0,"y":1.0}
]
},
"vconcat":[
{"title":{"text":"Bandwidths\u00a0\u00a0\u00a0\u00a0(h₁, h₂, λ) = (0.5,0.5,0.25)","font":"Liberation Serif","fontStyle":"italic","fontSize":24,"fontWeight":"normal","color":"black","offset":38,"anchor":"middle"},
 "spacing":21,
 "hconcat":[
  {"width":416,"height":212,"title":"NG_42_French_Math","data":{"name":"r1p1"},"resolve":{"axis":{"x":"independent","y":"independent"}},
   "layer":[
    {"transform":[{"filter":"datum.s=='b'"}],"mark":{"type":"line","color":"#4b4bc4","strokeWidth":1.3,"strokeDash":[4,3]},
     "encoding":{"x":{"field":"x","type":"quantitative","scale":{"domain":[0,1],"nice":false,"zero":false},"axis":{"orient":"top","title":null}},"y":{"field":"y","type":"quantitative","scale":{"domain":[0,1],"nice":false},"axis":{"orient":"right","title":null}}}},
    {"transform":[{"filter":"datum.s=='a'"}],"mark":{"type":"line","color":"#b03c3c","strokeWidth":1.5},
     "encoding":{"x":{"field":"x","type":"quantitative","scale":{"domain":[0,1],"nice":false,"zero":false},"axis":{"orient":"bottom","title":null,"labelAlign":{"condition":{"test":"datum.value == 0","value":"left"},"value":"center"}}},"y":{"field":"y","type":"quantitative","scale":{"domain":[0,1],"nice":false},"axis":{"orient":"left","title":null}}}}
   ]},
  {"width":416,"height":212,"title":"NG_42_French","data":{"name":"r1p2"},"resolve":{"axis":{"x":"independent","y":"independent"}},
   "layer":[
    {"transform":[{"filter":"datum.s=='b'"}],"mark":{"type":"line","color":"#4b4bc4","strokeWidth":1.3,"strokeDash":[4,3]},
     "encoding":{"x":{"field":"x","type":"quantitative","scale":{"domain":[0,1],"nice":false,"zero":false},"axis":{"orient":"top","title":null}},"y":{"field":"y","type":"quantitative","scale":{"domain":[0,1],"nice":false},"axis":{"orient":"right","title":null}}}},
    {"transform":[{"filter":"datum.s=='a'"}],"mark":{"type":"line","color":"#b03c3c","strokeWidth":1.5},
     "encoding":{"x":{"field":"x","type":"quantitative","scale":{"domain":[0,1],"nice":false,"zero":false},"axis":{"orient":"bottom","title":null,"labelAlign":{"condition":{"test":"datum.value == 0","value":"left"},"value":"center"}}},"y":{"field":"y","type":"quantitative","scale":{"domain":[0,1],"nice":false},"axis":{"orient":"left","title":null}}}}
   ]},
  {"width":416,"height":212,"title":"NG_42_Math","data":{"name":"r1p3"},"resolve":{"axis":{"x":"independent","y":"independent"}},
   "layer":[
    {"transform":[{"filter":"datum.s=='b'"}],"mark":{"type":"line","color":"#4b4bc4","strokeWidth":1.3,"strokeDash":[4,3]},
     "encoding":{"x":{"field":"x","type":"quantitative","scale":{"domain":[0,1],"nice":false,"zero":false},"axis":{"orient":"top","title":null}},"y":{"field":"y","type":"quantitative","scale":{"domain":[0,1],"nice":false},"axis":{"orient":"right","title":null}}}},
    {"transform":[{"filter":"datum.s=='a'"}],"mark":{"type":"line","color":"#b03c3c","strokeWidth":1.5},
     "encoding":{"x":{"field":"x","type":"quantitative","scale":{"domain":[0,1],"nice":false,"zero":false},"axis":{"orient":"bottom","title":null,"labelAlign":{"condition":{"test":"datum.value == 0","value":"left"},"value":"center"}}},"y":{"field":"y","type":"quantitative","scale":{"domain":[0,1],"nice":false},"axis":{"orient":"left","title":null}}}}
   ]}
 ]},
{"title":{"text":"Bandwidths\u00a0\u00a0\u00a0\u00a0(h₁, h₂, λ) = (1,1,0.5)","font":"Liberation Serif","fontStyle":"italic","fontSize":24,"fontWeight":"normal","color":"black","offset":21,"anchor":"middle"},
 "spacing":-6,
 "align":"none",
 "hconcat":[
  {"width":1,"height":1,"data":{"values":[]},"mark":"point"},
  {"spacing":21,
   "hconcat":[
  {"width":416,"height":212,"title":"NG_42_French_Math","data":{"name":"r2p1"},"resolve":{"axis":{"x":"independent","y":"independent"}},
   "layer":[
    {"transform":[{"filter":"datum.s=='b'"}],"mark":{"type":"line","color":"#4b4bc4","strokeWidth":1.3,"strokeDash":[4,3]},
     "encoding":{"x":{"field":"x","type":"quantitative","scale":{"domain":[0,1],"nice":false,"zero":false},"axis":{"orient":"top","title":null}},"y":{"field":"y","type":"quantitative","scale":{"domain":[0,1],"nice":false},"axis":{"orient":"right","title":null}}}},
    {"transform":[{"filter":"datum.s=='a'"}],"mark":{"type":"line","color":"#b03c3c","strokeWidth":1.5},
     "encoding":{"x":{"field":"x","type":"quantitative","scale":{"domain":[0,1],"nice":false,"zero":false},"axis":{"orient":"bottom","title":null,"minExtent":35,"maxExtent":35,"labelAlign":{"condition":{"test":"datum.value == 0","value":"left"},"value":"center"}}},"y":{"field":"y","type":"quantitative","scale":{"domain":[0,1],"nice":false},"axis":{"orient":"left","title":null}}}}
   ]},
  {"width":416,"height":212,"title":"NG_42_French","data":{"name":"r2p2"},"resolve":{"axis":{"x":"independent","y":"independent"}},
   "layer":[
    {"transform":[{"filter":"datum.s=='b'"}],"mark":{"type":"line","color":"#4b4bc4","strokeWidth":1.3,"strokeDash":[4,3]},
     "encoding":{"x":{"field":"x","type":"quantitative","scale":{"domain":[0,1],"nice":false,"zero":false},"axis":{"orient":"top","title":null}},"y":{"field":"y","type":"quantitative","scale":{"domain":[0,1],"nice":false},"axis":{"orient":"right","title":null}}}},
    {"transform":[{"filter":"datum.s=='a'"}],"mark":{"type":"line","color":"#b03c3c","strokeWidth":1.5},
     "encoding":{"x":{"field":"x","type":"quantitative","scale":{"domain":[0,1],"nice":false,"zero":false},"axis":{"orient":"bottom","title":null,"minExtent":35,"maxExtent":35,"labelAlign":{"condition":{"test":"datum.value == 0","value":"left"},"value":"center"}}},"y":{"field":"y","type":"quantitative","scale":{"domain":[0,1],"nice":false},"axis":{"orient":"left","title":null}}}}
   ]},
  {"width":416,"height":212,"title":"NG_42_Math","data":{"name":"r2p3"},"resolve":{"axis":{"x":"independent","y":"independent"}},
   "layer":[
    {"transform":[{"filter":"datum.s=='b'"}],"mark":{"type":"line","color":"#4b4bc4","strokeWidth":1.3,"strokeDash":[4,3]},
     "encoding":{"x":{"field":"x","type":"quantitative","scale":{"domain":[0,1],"nice":false,"zero":false},"axis":{"orient":"top","title":null}},"y":{"field":"y","type":"quantitative","scale":{"domain":[0,1],"nice":false},"axis":{"orient":"right","title":null}}}},
    {"transform":[{"filter":"datum.s=='a'"}],"mark":{"type":"line","color":"#b03c3c","strokeWidth":1.5},
     "encoding":{"x":{"field":"x","type":"quantitative","scale":{"domain":[0,1],"nice":false,"zero":false},"axis":{"orient":"bottom","title":null,"minExtent":35,"maxExtent":35,"labelAlign":{"condition":{"test":"datum.value == 0","value":"left"},"value":"center"}}},"y":{"field":"y","type":"quantitative","scale":{"domain":[0,1],"nice":false},"axis":{"orient":"left","title":null}}}}
   ]}
   ]}
 ]},
{"title":{"text":"Bandwidths chosen by cross validation","font":"Liberation Serif","fontStyle":"italic","fontSize":24,"fontWeight":"normal","color":"black","offset":36,"anchor":"middle"},
 "spacing":-6,
 "align":"none",
 "hconcat":[
  {"width":1,"height":1,"data":{"values":[]},"mark":"point"},
  {"spacing":21,
   "hconcat":[
  {"width":416,"height":212,"title":"NG_42_French_Math","data":{"name":"r3p1"},"resolve":{"axis":{"x":"independent","y":"independent"}},
   "layer":[
    {"transform":[{"filter":"datum.s=='b'"}],"mark":{"type":"line","color":"#4b4bc4","strokeWidth":1.3,"strokeDash":[4,3]},
     "encoding":{"x":{"field":"x","type":"quantitative","scale":{"domain":[0,1],"nice":false,"zero":false},"axis":{"orient":"top","title":null}},"y":{"field":"y","type":"quantitative","scale":{"domain":[0,1],"nice":false},"axis":{"orient":"right","title":null}}}},
    {"transform":[{"filter":"datum.s=='a'"}],"mark":{"type":"line","color":"#b03c3c","strokeWidth":1.5},
     "encoding":{"x":{"field":"x","type":"quantitative","scale":{"domain":[0,1],"nice":false,"zero":false},"axis":{"orient":"bottom","title":null,"labelAlign":{"condition":{"test":"datum.value == 0","value":"left"},"value":"center"}}},"y":{"field":"y","type":"quantitative","scale":{"domain":[0,1],"nice":false},"axis":{"orient":"left","title":null}}}}
   ]},
  {"width":416,"height":212,"title":"NG_42_French","data":{"name":"r3p2"},"resolve":{"axis":{"x":"independent","y":"independent"}},
   "layer":[
    {"transform":[{"filter":"datum.s=='b'"}],"mark":{"type":"line","color":"#4b4bc4","strokeWidth":1.3,"strokeDash":[4,3]},
     "encoding":{"x":{"field":"x","type":"quantitative","scale":{"domain":[0,1],"nice":false,"zero":false},"axis":{"orient":"top","title":null}},"y":{"field":"y","type":"quantitative","scale":{"domain":[0,1],"nice":false},"axis":{"orient":"right","title":null}}}},
    {"transform":[{"filter":"datum.s=='a'"}],"mark":{"type":"line","color":"#b03c3c","strokeWidth":1.5},
     "encoding":{"x":{"field":"x","type":"quantitative","scale":{"domain":[0,1],"nice":false,"zero":false},"axis":{"orient":"bottom","title":null,"labelAlign":{"condition":{"test":"datum.value == 0","value":"left"},"value":"center"}}},"y":{"field":"y","type":"quantitative","scale":{"domain":[0,1],"nice":false},"axis":{"orient":"left","title":null}}}}
   ]},
  {"width":416,"height":212,"title":"NG_42_Math","data":{"name":"r3p3"},"resolve":{"axis":{"x":"independent","y":"independent"}},
   "layer":[
    {"transform":[{"filter":"datum.s=='b'"}],"mark":{"type":"line","color":"#4b4bc4","strokeWidth":1.3,"strokeDash":[4,3]},
     "encoding":{"x":{"field":"x","type":"quantitative","scale":{"domain":[0,1],"nice":false,"zero":false},"axis":{"orient":"top","title":null}},"y":{"field":"y","type":"quantitative","scale":{"domain":[0,1],"nice":false},"axis":{"orient":"right","title":null}}}},
    {"transform":[{"filter":"datum.s=='a'"}],"mark":{"type":"line","color":"#b03c3c","strokeWidth":1.5},
     "encoding":{"x":{"field":"x","type":"quantitative","scale":{"domain":[0,1],"nice":false,"zero":false},"axis":{"orient":"bottom","title":null,"labelAlign":{"condition":{"test":"datum.value == 0","value":"left"},"value":"center"}}},"y":{"field":"y","type":"quantitative","scale":{"domain":[0,1],"nice":false},"axis":{"orient":"left","title":null}}}}
   ]}
   ]}
 ]}
]
}
